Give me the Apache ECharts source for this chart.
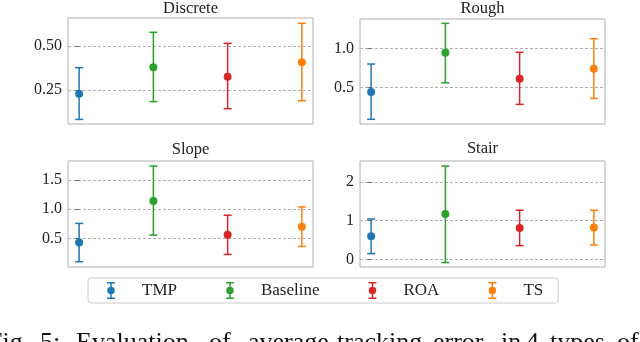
<!DOCTYPE html>
<html>
<head>
<meta charset="utf-8">
<script src="https://cdn.jsdelivr.net/npm/echarts@6/dist/echarts.min.js"></script>
<style>
  html, body { margin: 0; padding: 0; background: #fff; }
  #main { width: 640px; height: 342px; }
</style>
</head>
<body>
<div id="main"></div>
<script>
var methods = ['TMP', 'Baseline', 'ROA', 'TS'];
var terrains = ['Discrete', 'Rough', 'Slope', 'Stair'];

// mean and error bar ends, one value per method
var discreteMean = [0.229, 0.379, 0.326, 0.407];
var discreteLow  = [0.083, 0.184, 0.144, 0.189];
var discreteHigh = [0.377, 0.578, 0.515, 0.629];

var roughMean = [0.445, 0.949, 0.615, 0.744];
var roughLow  = [0.095, 0.564, 0.287, 0.364];
var roughHigh = [0.804, 1.325, 0.954, 1.128];

var slopeMean = [0.432, 1.141, 0.563, 0.700];
var slopeLow  = [0.105, 0.558, 0.229, 0.365];
var slopeHigh = [0.758, 1.737, 0.898, 1.039];

var stairMean = [0.597, 1.173, 0.811, 0.820];
var stairLow  = [0.147, -0.085, 0.354, 0.370];
var stairHigh = [1.044, 2.413, 1.269, 1.269];

// y tick labels
var discreteTicks = [0.25, 0.50];
var roughTicks = [0.5, 1.0];
var slopeTicks = [0.5, 1.0, 1.5];
var stairTicks = [0, 1, 2];

// caption (cut off by the bottom edge), justified word by word
var captionWords = ['Fig.', '5:', 'Evaluation', 'of', 'average', 'tracking', 'error', 'in', '4', 'types', 'of'];
var captionX = [-12, 40, 76, 209, 248, 337, 433, 501, 526, 550, 617];

var colors = ['#1f77b4', '#2ca02c', '#d62728', '#ff7f0e'];
var fontName = '"Liberation Serif", "DejaVu Serif", serif';

var means = [discreteMean, roughMean, slopeMean, stairMean];
var lows = [discreteLow, roughLow, slopeLow, stairLow];
var highs = [discreteHigh, roughHigh, slopeHigh, stairHigh];
var ticks = [discreteTicks, roughTicks, slopeTicks, stairTicks];
var decimals = [2, 1, 1, 0];
var yRange = [[0.057, 0.659], [0.035, 1.381], [0.015, 1.822], [-0.199, 2.543]];

var grids = [
    {left: 68, top: 18, width: 245, height: 106},
    {left: 360, top: 19, width: 245, height: 105},
    {left: 68, top: 161, width: 245, height: 106},
    {left: 360, top: 161, width: 245, height: 106}
];
var titleTops = [0, 0, 141, 140];

var myChart = echarts.init(document.getElementById('main'));

function errorBar(params, api) {
    var x = api.value(0);
    var p1 = api.coord([x, api.value(1)]);
    var p2 = api.coord([x, api.value(2)]);
    var c = api.visual('color');
    var st = {stroke: c, lineWidth: 1.5};
    return {
        type: 'group',
        children: [
            {type: 'line', shape: {x1: p1[0], y1: p1[1], x2: p2[0], y2: p2[1]}, style: st},
            {type: 'line', shape: {x1: p1[0] - 4, y1: p1[1], x2: p1[0] + 4, y2: p1[1]}, style: st},
            {type: 'line', shape: {x1: p2[0] - 4, y1: p2[1], x2: p2[0] + 4, y2: p2[1]}, style: st}
        ]
    };
}

var gridOpt = [], xAxisOpt = [], yAxisOpt = [], titleOpt = [], seriesOpt = [];
for (var g = 0; g < 4; g++) {
    gridOpt.push({
        left: grids[g].left, top: grids[g].top, width: grids[g].width, height: grids[g].height,
        show: true, borderColor: '#b0b0b0', borderWidth: 1, backgroundColor: '#fff'
    });
    xAxisOpt.push({
        type: 'value', gridIndex: g, min: -0.15, max: 3.15, show: false
    });
    (function(d) {
        yAxisOpt.push({
            type: 'value', gridIndex: g, min: yRange[g][0], max: yRange[g][1],
            axisLine: {show: false},
            axisTick: {show: true, length: 3.5, customValues: ticks[g], lineStyle: {color: '#444', width: 0.8}},
            axisLabel: {
                customValues: ticks[g], margin: 6, color: '#222',
                fontFamily: fontName, fontSize: 16,
                formatter: function(v) { return Number(v).toFixed(d); }
            },
            splitLine: {show: true, lineStyle: {color: '#b0b0b0', width: 1, type: [3, 2]}}
        });
    })(decimals[g]);
    titleOpt.push({
        text: terrains[g], left: grids[g].left + grids[g].width / 2, top: titleTops[g],
        textAlign: 'center', padding: 0,
        textStyle: {fontFamily: fontName, fontSize: 16.5, fontWeight: 'normal', color: '#222'}
    });
    for (var m = 0; m < 4; m++) {
        seriesOpt.push({
            name: methods[m], type: 'custom', xAxisIndex: g, yAxisIndex: g,
            renderItem: errorBar, itemStyle: {color: colors[m]},
            data: [[m, lows[g][m], highs[g][m]]], z: 2, silent: true
        });
        seriesOpt.push({
            name: methods[m], type: 'scatter', xAxisIndex: g, yAxisIndex: g,
            symbolSize: 8, itemStyle: {color: colors[m], opacity: 1},
            data: [[m, means[g][m]]], z: 3, silent: true
        });
    }
}

// errorbar glyph: caps, stem pieces, filled dot (no overlaps so nothing cancels out)
var legendIcon = 'path://M0,0H8V1.5H0Z M3.25,1.5H4.75V5H3.25Z M3.25,12H4.75V15.5H3.25Z M0,15.5H8V17H0Z ' +
    'M0.25,8.5A3.75,3.75,0,1,1,7.75,8.5A3.75,3.75,0,1,1,0.25,8.5Z';

var captionGraphics = captionWords.map(function(w, i) {
    return {
        type: 'text', left: captionX[i], top: 330,
        style: {text: w, fontFamily: fontName, fontSize: 26, fill: '#111'}
    };
});

var option = {
    animation: false,
    color: colors,
    title: titleOpt,
    grid: gridOpt,
    xAxis: xAxisOpt,
    yAxis: yAxisOpt,
    legend: {
        left: 88, top: 278,
        padding: [4, 15, 4, 19],
        itemWidth: 8, itemHeight: 17, itemGap: 49,
        borderColor: '#cccccc', borderWidth: 1, borderRadius: 3,
        data: methods.map(function(n) { return {name: n, icon: legendIcon}; }),
        textStyle: {fontFamily: fontName, fontSize: 17, color: '#222', padding: [0, 0, 0, 22]},
        selectedMode: false
    },
    graphic: captionGraphics,
    series: seriesOpt
};
myChart.setOption(option);
</script>
</body>
</html>
